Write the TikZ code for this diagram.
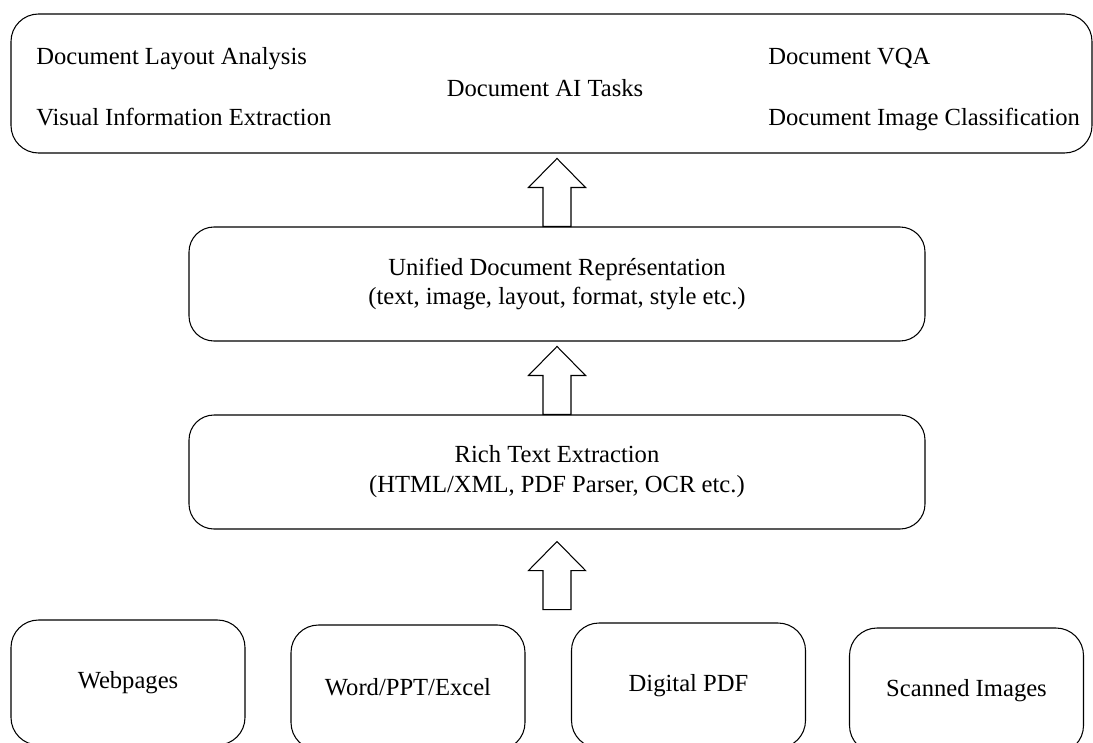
\documentclass[tikz,border=0pt]{standalone}
\usepackage{fontspec}
\setmainfont{Liberation Serif}
\usepackage{tikz}
\usetikzlibrary{calc}
\usetikzlibrary{positioning}
\tikzset{
  mybox/.style={
    draw=black,
    shape=rectangle,
    line width=0.6pt,
    rounded corners=0.5cm,
    align=center,
    inner sep=0pt,
    font=\fontsize{14}{17}\selectfont
  },
  mylabel/.style={
    inner sep=0pt,
    font=\fontsize{14}{17}\selectfont
  },
  upblock/.pic={
    \draw[line width=0.6pt, fill=white]
      (-0.28,0) -- (-0.28,0.78) -- (-0.57,0.78) -- (0,1.36)
      -- (0.57,0.78) -- (0.28,0.78) -- (0.28,0) -- cycle;
  },
}

\begin{document}
\begin{tikzpicture}
    \clip (0,0) rectangle (21.86,-14.84);

    \node [mybox, rounded corners=0.55cm, minimum width=21.62cm, minimum height=2.78cm] (tasks) at (11.03, -1.67) {};
    \node [mylabel, anchor=base west] (dla) at (0.72, -1.30) {Document Layout Analysis};
    \node [mylabel, anchor=base west] (vie) at (0.72, -2.50) {Visual Information Extraction};
    \node [mylabel, anchor=base west] (vqa) at (15.36, -1.30) {Document VQA};
    \node [mylabel, anchor=base west] (dic) at (15.36, -2.50) {Document Image Classification};
    \node [mylabel, anchor=base] (aitasks) at (10.9, -1.92) {Document AI Tasks};

    \node [mybox, minimum width=14.72cm, minimum height=2.28cm] (unified) at (11.14, -5.68)
      {Unified Document Représentation\\(text, image, layout, format, style etc.)};
    \node [mybox, minimum width=14.72cm, minimum height=2.28cm] (rich) at (11.14, -9.44)
      {Rich Text Extraction\\(HTML/XML, PDF Parser, OCR etc.)};

    \node [mybox, rounded corners=0.55cm, minimum width=4.68cm, minimum height=2.5cm] (web) at (2.56, -13.65) {Webpages};
    \node [mybox, rounded corners=0.55cm, minimum width=4.68cm, minimum height=2.5cm] (office) at (8.16, -13.75) {Word/PPT/Excel};
    \node [mybox, rounded corners=0.55cm, minimum width=4.68cm, minimum height=2.5cm] (pdf) at (13.77, -13.71) {Digital PDF};
    \node [mybox, rounded corners=0.55cm, minimum width=4.68cm, minimum height=2.5cm] (scan) at (19.33, -13.81) {Scanned Images};

    \pic at (unified.north) {upblock};
    \pic at (rich.north) {upblock};
    \pic at ($(rich.south)+(0,-1.6)$) {upblock};

  \end{tikzpicture}
\end{document}
